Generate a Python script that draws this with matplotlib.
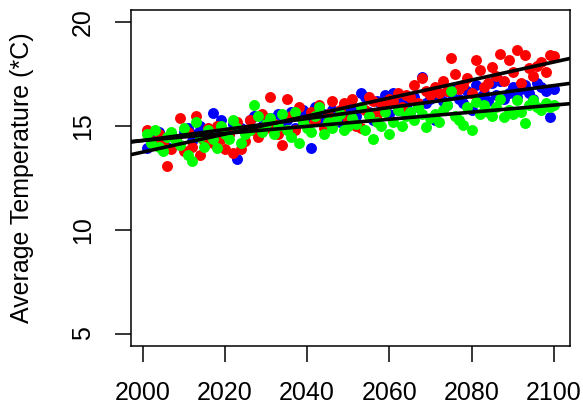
import numpy as np
import matplotlib
matplotlib.use("Agg")
import matplotlib.pyplot as plt

years = list(range(2001, 2101))

blue_temp = [
    13.95, 14.5, 14.3, 14.7, 14.2, 14.0, 14.6, 14.4, 14.1, 14.7,
    14.9, 14.3, 14.6, 15.0, 14.4, 14.8, 15.65, 14.5, 15.3, 14.7,
    14.6, 15.1, 13.4, 14.9, 14.7, 15.3, 15.5, 14.8, 15.0, 15.2,
    15.4, 14.8, 15.6, 15.1, 15.3, 15.7, 14.9, 15.5, 15.8, 15.2,
    13.95, 15.9, 15.4, 15.6, 15.0, 15.8, 15.5, 15.2, 16.0, 15.7,
    15.9, 15.5, 16.6, 16.4, 15.7, 15.3, 16.2, 15.8, 16.5, 15.6,
    16.6, 15.8, 16.2, 16.0, 15.7, 16.4, 15.9, 17.35, 16.1, 16.3,
    15.3, 16.5, 16.2, 16.0, 16.6, 16.9, 16.3, 16.1, 16.7, 15.8,
    17.0, 16.4, 16.6, 16.2, 17.1, 16.5, 17.2, 16.3, 16.6, 16.9,
    16.4, 16.8, 17.0, 16.6, 16.3, 17.1, 16.9, 16.7, 15.45, 16.8,
]

red_temp = [
    14.8, 14.3, 14.1, 14.6, 14.2, 13.1, 13.9, 14.4, 15.4, 13.8,
    14.7, 14.0, 15.5, 13.6, 14.3, 14.9, 14.2, 15.0, 14.4, 13.9,
    14.6, 13.7, 15.2, 13.9, 14.3, 15.3, 14.8, 14.5, 15.6, 14.9,
    16.4, 15.1, 14.6, 14.1, 16.3, 15.5, 14.8, 15.9, 15.2, 15.0,
    15.7, 15.3, 16.0, 14.9, 15.6, 16.2, 15.4, 15.8, 16.1, 15.3,
    16.3, 15.0, 14.9, 15.8, 16.4, 16.2, 15.6, 16.1, 15.9, 16.3,
    16.2, 16.6, 15.9, 16.5, 16.4, 17.0, 16.1, 17.3, 16.7, 16.5,
    16.9, 16.6, 17.2, 16.7, 18.3, 17.5, 16.8, 17.0, 17.3, 16.6,
    18.2, 17.7, 16.9, 17.1, 17.85, 17.4, 18.5, 17.2, 18.2, 17.6,
    18.65, 17.1, 18.45, 17.8, 17.4, 17.9, 18.1, 17.6, 18.45, 18.4,
]

green_temp = [
    14.6, 14.2, 14.8, 14.0, 13.8, 14.5, 14.7, 14.3, 14.1, 14.9,
    13.6, 13.3, 15.2, 14.5, 14.0, 14.8, 14.4, 13.95, 15.0, 14.6,
    14.4, 15.3, 14.9, 14.2, 14.6, 14.8, 16.0, 15.5, 14.7, 15.1,
    15.4, 14.6, 15.0, 15.6, 14.8, 14.5, 15.7, 14.2, 15.2, 14.9,
    14.7, 15.5, 15.9, 14.6, 15.2, 14.9, 15.3, 15.6, 14.8, 15.0,
    15.4, 15.1, 15.9, 14.8, 15.5, 14.4, 15.2, 15.0, 15.7, 14.6,
    15.2, 15.8, 15.0, 15.5, 15.7, 15.3, 15.9, 15.6, 14.95, 15.4,
    15.6, 15.2, 15.8, 16.0, 16.7, 15.5, 15.3, 15.05, 15.9, 14.8,
    16.15, 15.6, 16.0, 15.7, 15.5, 15.9, 16.3, 15.45, 15.8, 15.6,
    16.25, 15.7, 15.15, 16.0, 16.25, 15.9, 15.8, 16.1, 15.9, 16.0,
]

series = [("#0000FF", blue_temp), ("#FF0000", red_temp), ("#00FF00", green_temp)]

x_ticks = [2000, 2020, 2040, 2060, 2080, 2100]
y_ticks = [5, 10, 15, 20]
y_label = "Average Temperature (*C)"

plt.rcParams['font.family'] = ['Liberation Sans', 'DejaVu Sans']

W, H = 583, 407
fig = plt.figure(figsize=(W / 100, H / 100), dpi=100)
left, right, top, bottom = 130.5, 570, 10, 346
ax = fig.add_axes([left / W, 1 - bottom / H, (right - left) / W, (bottom - top) / H])

xs = np.array(years, dtype=float)
for col, vals in series:
    ax.scatter(xs, vals, s=62, color=col, linewidths=0, zorder=2)

for col, vals in series:
    b, a = np.polyfit(xs, np.array(vals), 1)
    ax.axline((2000, a + b * 2000), slope=b, color="black", lw=2.6, zorder=3)

xr = xs.max() - xs.min()
ax.set_xlim(xs.min() - 0.04 * xr, xs.max() + 0.04 * xr)
ax.set_ylim(5 - 0.04 * 15, 20 + 0.04 * 15)
ax.set_xticks(x_ticks)
ax.set_yticks(y_ticks)
ax.set_xticklabels([str(t) for t in x_ticks])
ax.set_yticklabels([str(t) for t in y_ticks], rotation=90, va="center")
for sp in ax.spines.values():
    sp.set_linewidth(1.1)
ax.tick_params(axis="both", length=11.5, width=1.1, labelsize=18, color="black")
ax.tick_params(axis="x", pad=14)
ax.tick_params(axis="y", pad=14)
ax.set_ylabel(y_label, fontsize=18)
ax.yaxis.label.set_va("center")
ax.yaxis.set_label_coords((22 - left) / (right - left), 0.5)

fig.savefig("out.png", dpi=100)
